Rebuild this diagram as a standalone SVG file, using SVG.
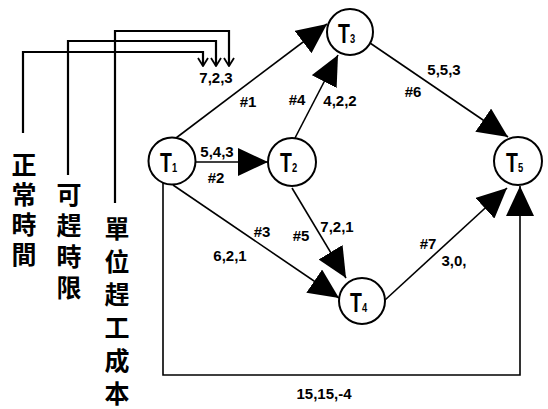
<svg xmlns="http://www.w3.org/2000/svg" width="548" height="409" viewBox="0 0 548 409">
<style>
.ln{fill:none;stroke:#000;stroke-width:1.6}
.br{fill:none;stroke:#000;stroke-width:2.2}
.nd{fill:#fff;stroke:#000;stroke-width:2}
.lb{font-family:"Liberation Sans",Arial,sans-serif;font-weight:bold;font-size:15px;fill:#000;text-anchor:middle}
.nt{font-family:"Liberation Sans",Arial,sans-serif;font-weight:bold;font-size:27px;fill:#000}
.ns{font-size:13px}
.cj{font-family:"Noto Sans CJK TC","Noto Sans CJK SC",sans-serif;font-weight:bold;font-size:25px;fill:#000;writing-mode:vertical-rl;text-orientation:upright}
</style>
<defs>
<marker id="ah" markerUnits="userSpaceOnUse" viewBox="0 0 30 28" markerWidth="30" markerHeight="28" refX="30" refY="14" orient="auto"><path d="M0,0 L30,14 L0,28 z" fill="#000"/></marker>
<marker id="ch" markerUnits="userSpaceOnUse" viewBox="0 0 10 12" markerWidth="10" markerHeight="12" refX="9" refY="6" orient="auto"><path d="M1,1 L9,6 L1,11" fill="none" stroke="#000" stroke-width="1.8"/></marker>
</defs>
<g id="connectors">
<path class="br" d="M23,133 V52 H203 V66" marker-end="url(#ch)"/>
<path class="br" d="M68,175 V41 H216 V66" marker-end="url(#ch)"/>
<path class="br" d="M115,203 V31 H229 V66" marker-end="url(#ch)"/>
<path class="ln" d="M176,138 L327,24" marker-end="url(#ah)"/>
<path class="ln" d="M196,162 L268,162" marker-end="url(#ah)"/>
<path class="ln" d="M295,138 L338,55" marker-end="url(#ah)"/>
<path class="ln" d="M370,43 L508,137" marker-end="url(#ah)"/>
<path class="ln" d="M292,188 L346,278" marker-end="url(#ah)"/>
<path class="ln" d="M173,185 L339,298" marker-end="url(#ah)"/>
<path class="ln" d="M385,300 L507,188" marker-end="url(#ah)"/>
<path class="ln" d="M163,183 V375 H520 V186" marker-end="url(#ah)"/>
</g>
<g id="labels">
<text class="lb" x="216" y="83">7,2,3</text>
<text class="lb" x="248" y="107">#1</text>
<text class="lb" x="217" y="157">5,4,3</text>
<text class="lb" x="216" y="183">#2</text>
<text class="lb" x="297" y="105">#4</text>
<text class="lb" x="340" y="106">4,2,2</text>
<text class="lb" x="444" y="75">5,5,3</text>
<text class="lb" x="413" y="97">#6</text>
<text class="lb" x="262" y="237">#3</text>
<text class="lb" x="230" y="261">6,2,1</text>
<text class="lb" x="301" y="241">#5</text>
<text class="lb" x="337" y="232">7,2,1</text>
<text class="lb" x="428" y="249">#7</text>
<text class="lb" x="454" y="266">3,0,</text>
<text class="lb" x="324" y="399">15,15,-4</text>
<text class="cj" x="24" y="152"><tspan letter-spacing="5">正常時</tspan>間</text>
<text class="cj" x="69" y="182"><tspan letter-spacing="6">可趕時</tspan>限</text>
<text class="cj" x="117" y="216"><tspan letter-spacing="8">單位趕工成</tspan>本</text>
</g>
<g id="T1"><circle class="nd" cx="172" cy="161" r="23.5"/><text class="nt" transform="translate(160,172) scale(0.72,1)">T<tspan class="ns">1</tspan></text></g>
<g id="T2"><circle class="nd" cx="292" cy="162" r="24"/><text class="nt" transform="translate(280,172) scale(0.72,1)">T<tspan class="ns">2</tspan></text></g>
<g id="T3"><circle class="nd" cx="350" cy="32" r="23"/><text class="nt" transform="translate(338,43) scale(0.72,1)">T<tspan class="ns">3</tspan></text></g>
<g id="T4"><circle class="nd" cx="362" cy="301" r="23"/><text class="nt" transform="translate(350,312) scale(0.72,1)">T<tspan class="ns">4</tspan></text></g>
<g id="T5"><circle class="nd" cx="518" cy="161" r="24"/><text class="nt" transform="translate(506,172) scale(0.72,1)">T<tspan class="ns">5</tspan></text></g>
</svg>
